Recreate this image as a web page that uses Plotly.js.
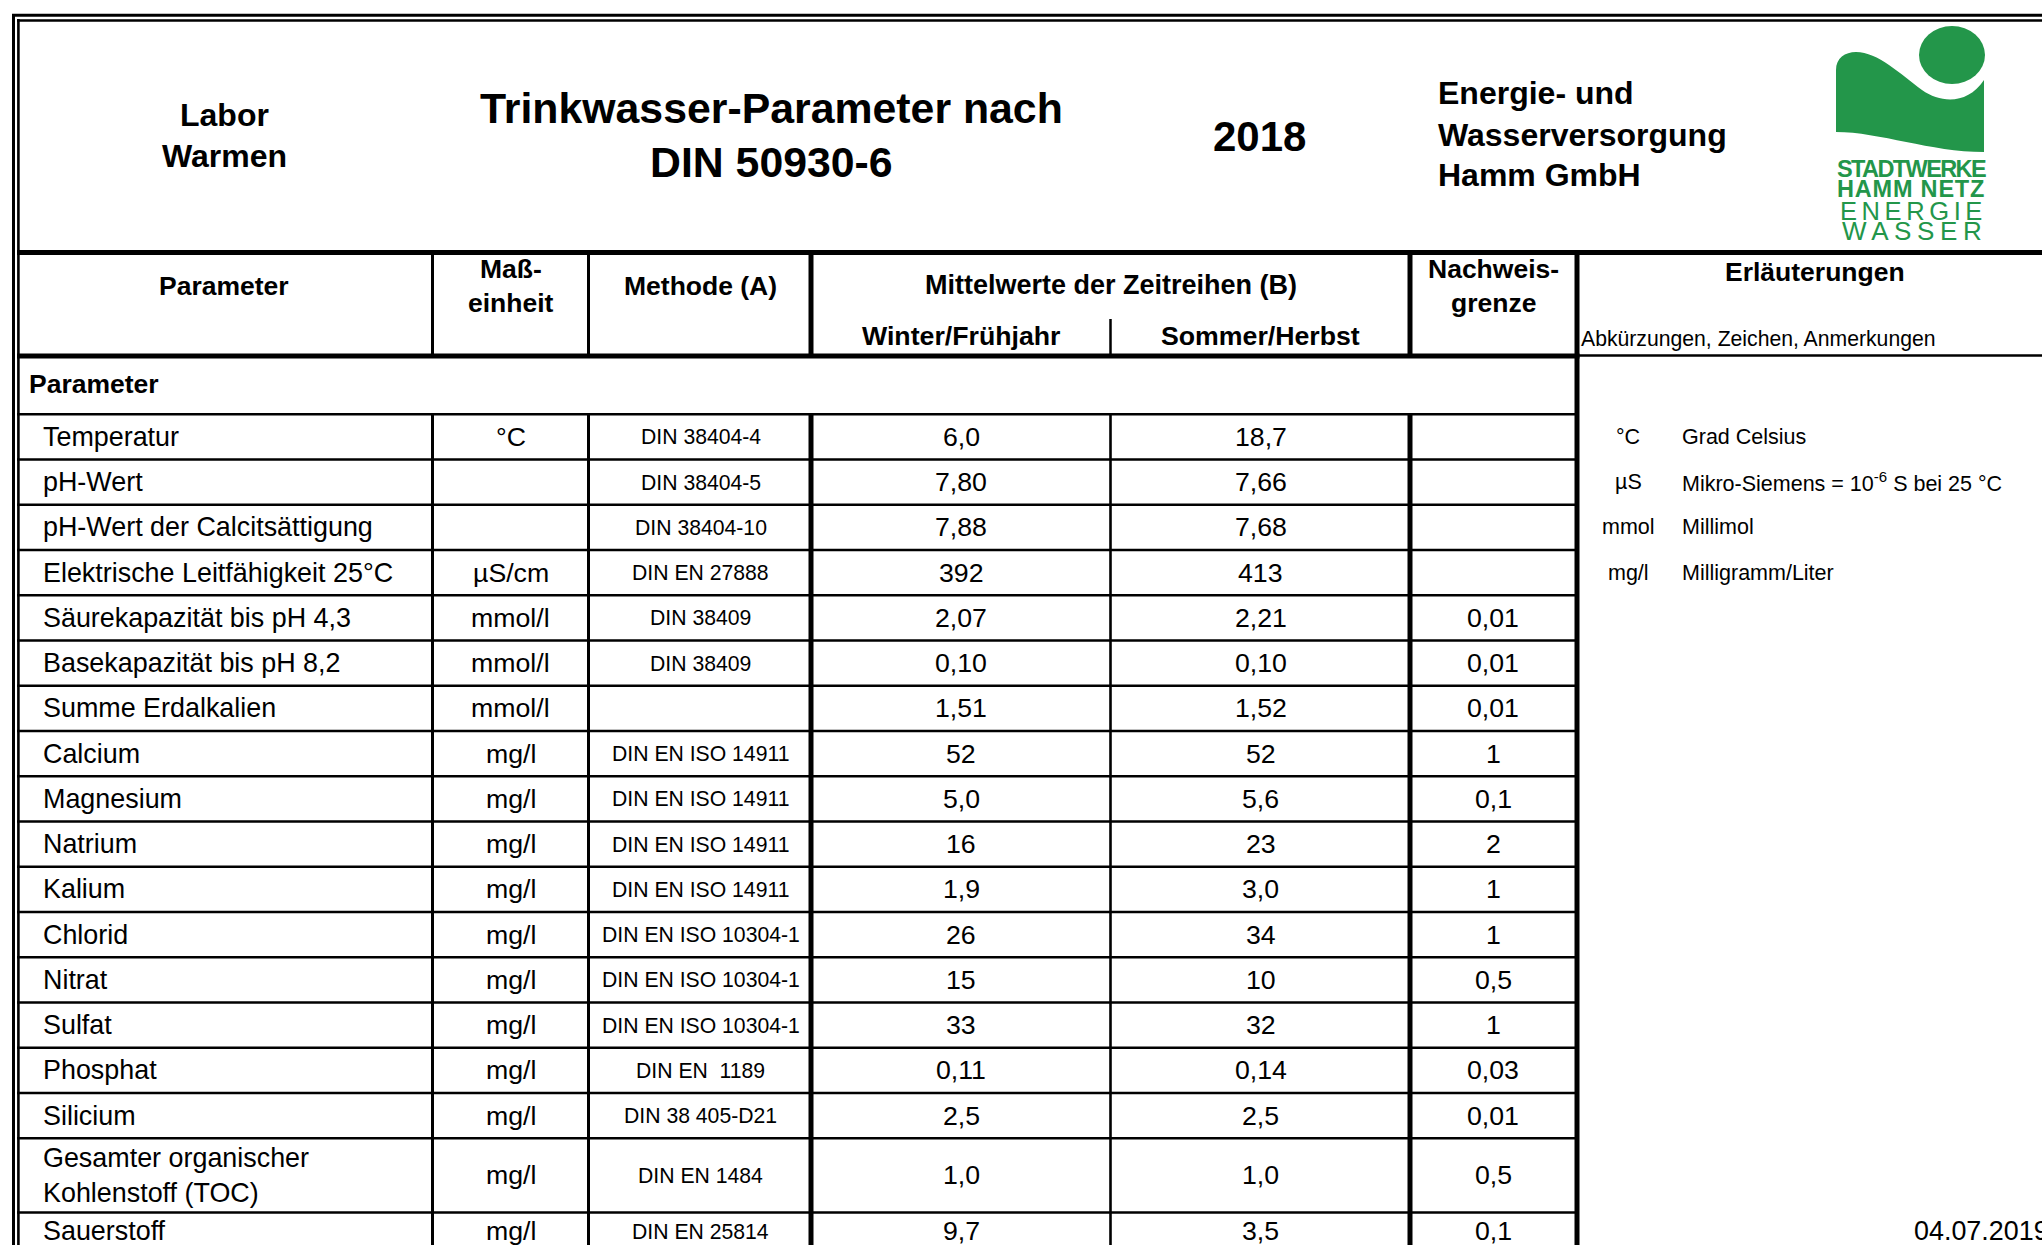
<!DOCTYPE html>
<html>
<head>
<meta charset="utf-8">
<script src="https://cdn.plot.ly/plotly-3.0.1.min.js"></script>
<style>
html,body{margin:0;padding:0;background:#fff;overflow:hidden}
#chart{width:2042px;height:1245px}
</style>
</head>
<body>
<div id="chart"></div>
<script>
// ---------------- data ----------------
const parameters = [
  "Temperatur","pH-Wert","pH-Wert der Calcitsättigung","Elektrische Leitfähigkeit 25°C",
  "Säurekapazität bis pH 4,3","Basekapazität bis pH 8,2","Summe Erdalkalien","Calcium",
  "Magnesium","Natrium","Kalium","Chlorid","Nitrat","Sulfat","Phosphat","Silicium",
  "Gesamter organischer<br>Kohlenstoff (TOC)","Sauerstoff"
];
const units = [
  "°C","","","µS/cm","mmol/l","mmol/l","mmol/l","mg/l","mg/l","mg/l","mg/l","mg/l",
  "mg/l","mg/l","mg/l","mg/l","mg/l","mg/l"
];
const methods = [
  "DIN 38404-4","DIN 38404-5","DIN 38404-10","DIN EN 27888","DIN 38409","DIN 38409","",
  "DIN EN ISO 14911","DIN EN ISO 14911","DIN EN ISO 14911","DIN EN ISO 14911",
  "DIN EN ISO 10304-1","DIN EN ISO 10304-1","DIN EN ISO 10304-1","DIN EN  1189",
  "DIN 38 405-D21","DIN EN 1484","DIN EN 25814"
];
const winterValues = ["6,0","7,80","7,88","392","2,07","0,10","1,51","52","5,0","16","1,9","26","15","33","0,11","2,5","1,0","9,7"];
const summerValues = ["18,7","7,66","7,68","413","2,21","0,10","1,52","52","5,6","23","3,0","34","10","32","0,14","2,5","1,0","3,5"];
const detectionLimits = ["","","","","0,01","0,01","0,01","1","0,1","2","1","1","0,5","1","0,03","0,01","0,5","0,1"];
const abbreviations = ["°C","µS","mmol","mg/l"];
const abbreviationTexts = ["Grad Celsius","Mikro-Siemens = 10<sup>-6</sup> S bei 25 °C","Millimol","Milligramm/Liter"];
const headerLab = ["Labor","Warmen"];
const headerTitle = ["Trinkwasser-Parameter nach","DIN 50930-6"];
const headerYear = "2018";
const headerCompany = ["Energie- und","Wasserversorgung","Hamm GmbH"];
const logoLines = ["STADTWERKE","HAMM NETZ","ENERGIE","WASSER"];
const dateText = "04.07.2019";

// ---------------- layout geometry ----------------
const W = 2042, H = 1245;
const FONT = "Liberation Sans, Arial, Helvetica, sans-serif";
const GREEN = "#23964a";
const firstRowTop = 414.3, rowH = 45.25, tocBottom = 1212.5;
const rowTop = [], rowBottom = [];
for (let i = 0; i < parameters.length; i++) {
  if (i < 16) { rowTop.push(firstRowTop + i * rowH); rowBottom.push(firstRowTop + (i + 1) * rowH); }
  else if (i === 16) { rowTop.push(firstRowTop + 16 * rowH); rowBottom.push(tocBottom); }
  else { rowTop.push(tocBottom); rowBottom.push(tocBottom + rowH); }
}
const rowCenter = rowTop.map((t, i) => (t + rowBottom[i]) / 2 - (i === 17 ? 4 : 0));

const shapes = [];
const hLine = (y, x0, x1, w) => shapes.push({type:"line", xref:"x", yref:"y", x0:x0, x1:x1, y0:y, y1:y, line:{color:"#000", width:w}});
const vLine = (x, y0, y1, w) => shapes.push({type:"line", xref:"x", yref:"y", x0:x, x1:x, y0:y0, y1:y1, line:{color:"#000", width:w}});

// outer double border
vLine(13.5, 14, H, 3);
vLine(18.4, 19, H, 2.6);
hLine(15.3, 12, W, 3);
hLine(20.5, 17, W, 2.6);
// header separator and column header bottom
hLine(252.5, 17, W, 5);
hLine(356, 17, 1579.5, 5);
hLine(355.5, 1577, W, 2.3);
// row lines
for (let i = 0; i < parameters.length; i++) hLine(rowTop[i], 17, 1577, 2.6);
// vertical separators
const seps = [[432.5, 3], [588.5, 3], [811, 5], [1410, 5]];
seps.forEach(([x, w]) => { vLine(x, 252.5, 358, w); vLine(x, 414.3, H, w); });
vLine(1110.5, 319, 358, 2.5);
vLine(1110.5, 414.3, H, 2.6);
vLine(1577, 252.5, H, 5);

// logo shapes
shapes.push({type:"path", xref:"x", yref:"y",
  path:"M 1836 132 L 1836 70 C 1836 58 1845 52 1856 52 C 1878 52 1900 74 1922 90 C 1942 104 1968 104 1984 80 L 1984 152 C 1930 152 1880 132 1836 132 Z",
  fillcolor:GREEN, line:{width:0}});
shapes.push({type:"circle", xref:"x", yref:"y", x0:1919, x1:1985, y0:26, y1:84, fillcolor:GREEN, line:{width:0}});

// ---------------- annotations ----------------
const annotations = [];
const ann = (x, y, text, size, opt) => {
  opt = opt || {};
  annotations.push({x:x, y:y, xref:"x", yref:"y", text:text, showarrow:false,
    xanchor:opt.xanchor || "center", yanchor:"middle", align:opt.align || "center",
    font:{family:opt.family || FONT, size:size, color:opt.color || "#000"}});
};

// top header
ann(224, 115, "<b>" + headerLab[0] + "</b>", 32);
ann(224, 155.5, "<b>" + headerLab[1] + "</b>", 32);
ann(771, 108, "<b>" + headerTitle[0] + "</b>", 42.8);
ann(771, 162, "<b>" + headerTitle[1] + "</b>", 42.8);
ann(1259, 136, "<b>" + headerYear + "</b>", 42);
headerCompany.forEach((t, i) => ann(1436, [92.5, 134.5, 175][i], "<b>" + t + "</b>", 32, {xanchor:"left", align:"left"}));

// logo text
ann(1911, 168.5, '<b><span style="letter-spacing:-1.6px">' + logoLines[0] + '</span></b>', 23.5, {color:GREEN});
ann(1911, 189, '<b><span style="letter-spacing:0.8px">' + logoLines[1] + '</span></b>', 23.5, {color:GREEN});
ann(1913, 210.5, '<span style="letter-spacing:4.6px">' + logoLines[2] + '</span>', 25.5, {color:GREEN});
ann(1914, 231, '<span style="letter-spacing:5.6px">' + logoLines[3] + '</span>', 26, {color:GREEN});

// column headers
ann(224, 286, "<b>Parameter</b>", 26.5);
ann(510.5, 268.8, "<b>Maß-</b>", 26.5);
ann(510.5, 303, "<b>einheit</b>", 26.5);
ann(700.5, 286, "<b>Methode (A)</b>", 26.5);
ann(1111, 285, "<b>Mittelwerte der Zeitreihen (B)</b>", 27);
ann(961, 336, "<b>Winter/Frühjahr</b>", 26.7);
ann(1260.6, 336, "<b>Sommer/Herbst</b>", 26.7);
ann(1493, 268.8, "<b>Nachweis-</b>", 26.5);
ann(1493, 303, "<b>grenze</b>", 26.5);
ann(1815, 271.5, "<b>Erläuterungen</b>", 26.5);
ann(1579, 339, "Abkürzungen, Zeichen, Anmerkungen", 21.2, {xanchor:"left", align:"left"});

// section row
ann(27, 384, "<b>Parameter</b>", 26.5, {xanchor:"left", align:"left"});

// data rows
parameters.forEach((p, i) => {
  const y = rowCenter[i];
  ann(41, y, p, 26.9, {xanchor:"left", align:"left"});
  if (units[i]) ann(510.5, y, units[i], 26.7);
  if (methods[i]) ann(700.5, y, methods[i].replace(/  /g, "&nbsp; "), 21.2);
  ann(961, y, winterValues[i], 26.7);
  ann(1260.6, y, summerValues[i], 26.7);
  if (detectionLimits[i]) ann(1493, y, detectionLimits[i], 26.7);
});

// legend of abbreviations
abbreviations.forEach((a, i) => {
  const y = rowCenter[i];
  ann(1628, y, a, 21.5);
  ann(1680, y, abbreviationTexts[i], 21.5, {xanchor:"left", align:"left"});
});

// date
ann(1912, rowCenter[17], dateText, 26.9, {xanchor:"left", align:"left"});

const layout = {
  width: W, height: H,
  margin: {l:0, r:0, t:0, b:0, pad:0},
  paper_bgcolor: "#fff", plot_bgcolor: "#fff",
  showlegend: false,
  xaxis: {range:[0, W], visible:false, fixedrange:true},
  yaxis: {range:[H, 0], visible:false, fixedrange:true},
  shapes: shapes,
  annotations: annotations
};

Plotly.newPlot("chart", [], layout, {staticPlot:true, displayModeBar:false});
</script>
</body>
</html>
